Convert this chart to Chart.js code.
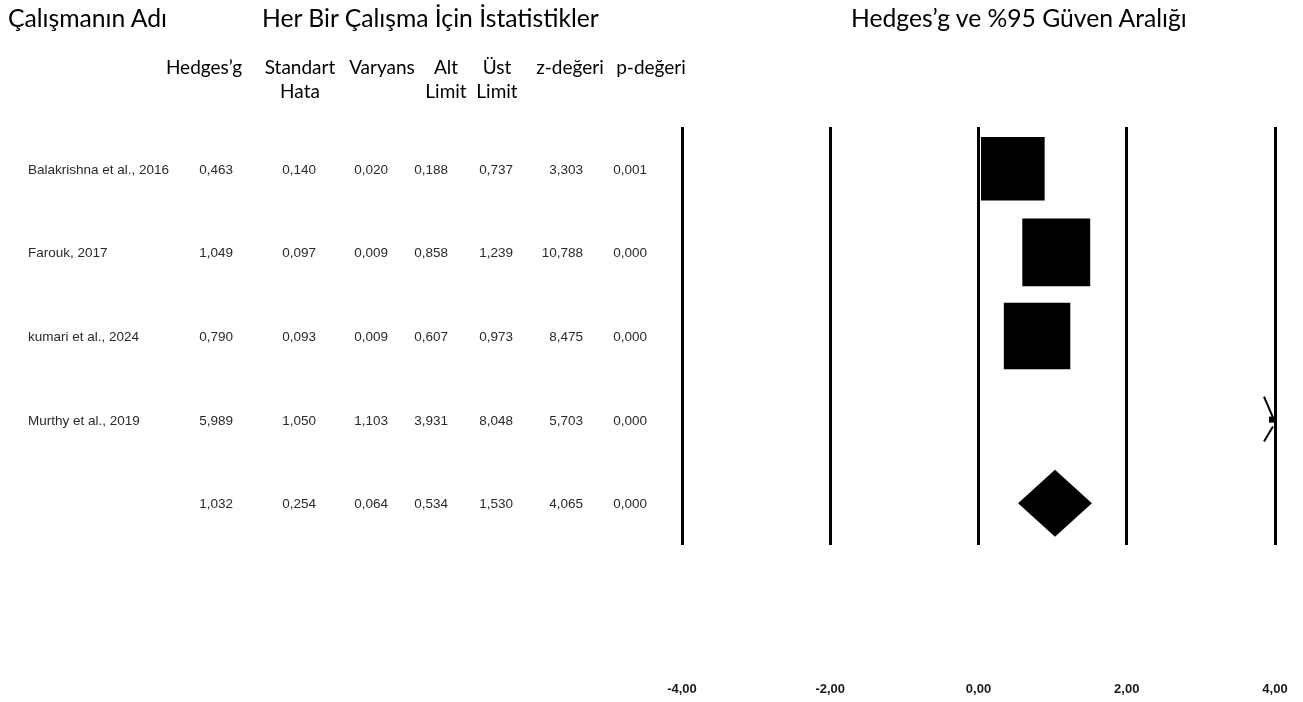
<!DOCTYPE html>
<html>
<head>
<meta charset="utf-8">
<script src="https://cdn.jsdelivr.net/npm/chart.js@4.4.1/dist/chart.umd.min.js"></script>
<style>
  html, body { margin: 0; padding: 0; background: #fff; }
  #wrap { position: relative; width: 1303px; height: 702px; overflow: hidden; }
  #c { position: absolute; left: 0; top: 0; }
  .title { position: absolute; font-family: Lato, "Open Sans", sans-serif; font-size: 24.7px; color: #000; white-space: nowrap; transform: translateY(-50%); }
  .colh { position: absolute; font-family: Lato, "Open Sans", sans-serif; font-size: 19px; color: #000; text-align: center; line-height: 24px; white-space: nowrap; }
  .cell { position: absolute; font-family: "Liberation Sans Narrow", "Liberation Sans", Arial, sans-serif; font-size: 13.5px; color: #2a2a2a; white-space: nowrap; transform: translateY(-50%); }
</style>
</head>
<body>
<div id="wrap">
  <canvas id="c" width="1303" height="702"></canvas>
  <div class="title" style="left:8px; top:17px;">Çalışmanın Adı</div>
  <div class="title" style="left:262px; top:17px;">Her Bir Çalışma İçin İstatistikler</div>
  <div class="title" style="left:851px; top:17px;">Hedges’g ve %95 Güven Aralığı</div>
  <div id="colheads"></div>
  <div id="rows"></div>
</div>
<script>
// ---- data ----
const studies = ["Balakrishna et al., 2016", "Farouk, 2017", "kumari et al., 2024", "Murthy et al., 2019"];
const hedgesG = [0.463, 1.049, 0.790, 5.989];
const stdError = [0.140, 0.097, 0.093, 1.050];
const variance = [0.020, 0.009, 0.009, 1.103];
const lowerLimit = [0.188, 0.858, 0.607, 3.931];
const upperLimit = [0.737, 1.239, 0.973, 8.048];
const zValue = [3.303, 10.788, 8.475, 5.703];
const pValue = [0.001, 0.000, 0.000, 0.000];
const summaryRow = [1.032, 0.254, 0.064, 0.534, 1.530, 4.065, 0.000]; // g, SE, var, lower, upper, z, p
const xTicks = [-4, -2, 0, 2, 4];
const columnHeaders = [["Hedges’g"], ["Standart", "Hata"], ["Varyans"], ["Alt", "Limit"], ["Üst", "Limit"], ["z-değeri"], ["p-değeri"]];

// ---- layout (styles) ----
const colHeadCenters = [204, 300, 382, 446, 497, 570, 651];
const colRight = [233, 316, 388, 448, 513, 583, 647];
const nameLeft = 28;
const boxRadius = [45, 48, 47, 47];

const fmt = v => v.toFixed(3).replace('.', ',');
const fmt2 = v => v.toFixed(2).replace('.', ',');

// column headers
const ch = document.getElementById('colheads');
columnHeaders.forEach((lines, i) => {
  const d = document.createElement('div');
  d.className = 'colh';
  d.style.left = (colHeadCenters[i] - 60) + 'px';
  d.style.width = '120px';
  d.style.top = '55px';
  d.innerHTML = lines.join('<br>');
  ch.appendChild(d);
});

const tableRows = studies.map((s, i) => [s, hedgesG[i], stdError[i], variance[i], lowerLimit[i], upperLimit[i], zValue[i], pValue[i]]);
tableRows.push([""].concat(summaryRow));

const rowsEl = document.getElementById('rows');
const rowDivs = [];
tableRows.forEach((r) => {
  const cells = [];
  const n = document.createElement('div');
  n.className = 'cell';
  n.style.left = nameLeft + 'px';
  n.textContent = r[0];
  rowsEl.appendChild(n);
  cells.push(n);
  for (let k = 1; k < r.length; k++) {
    const d = document.createElement('div');
    d.className = 'cell';
    d.style.right = (1303 - colRight[k - 1]) + 'px';
    d.textContent = fmt(r[k]);
    rowsEl.appendChild(d);
    cells.push(d);
  }
  rowDivs.push(cells);
});

const rowPositions = tableRows.map((_, i) => i + 1);

const forestPlugin = {
  id: 'forest',
  afterDraw(chart) {
    const ctx = chart.ctx;
    const xs = chart.scales.x, ys = chart.scales.y;
    // position table text by the y scale
    rowDivs.forEach((cells, i) => {
      const y = ys.getPixelForValue(rowPositions[i]);
      cells.forEach(c => c.style.top = y + 'px');
    });
    ctx.save();
    ctx.strokeStyle = '#000';
    ctx.fillStyle = '#000';
    ctx.lineWidth = 1.5;
    // CI whiskers and arrows
    studies.forEach((s, i) => {
      const y = ys.getPixelForValue(rowPositions[i]);
      const lo = Math.max(lowerLimit[i], xs.min), hi = Math.min(upperLimit[i], xs.max);
      if (lo < hi) {
        ctx.beginPath();
        ctx.moveTo(xs.getPixelForValue(lo), y);
        ctx.lineTo(xs.getPixelForValue(hi), y);
        ctx.stroke();
      }
      if (upperLimit[i] > xs.max) {
        const xe = xs.getPixelForValue(xs.max) - 2;
        ctx.lineWidth = 2;
        ctx.beginPath();
        ctx.moveTo(xe - 9, y - 23);
        ctx.lineTo(xe, y - 2);
        ctx.moveTo(xe - 9, y + 22);
        ctx.lineTo(xe, y + 7);
        ctx.stroke();
        ctx.fillRect(xe - 4, y - 3, 5, 6);
      }
    });
    // summary diamond
    const yS = ys.getPixelForValue(rowPositions[rowPositions.length - 1]);
    const h = 33.5;
    ctx.beginPath();
    ctx.moveTo(xs.getPixelForValue(summaryRow[3]), yS);
    ctx.lineTo(xs.getPixelForValue(summaryRow[0]), yS - h);
    ctx.lineTo(xs.getPixelForValue(summaryRow[4]), yS);
    ctx.lineTo(xs.getPixelForValue(summaryRow[0]), yS + h);
    ctx.closePath();
    ctx.fill();
    ctx.restore();
  }
};

new Chart(document.getElementById('c'), {
  type: 'scatter',
  data: {
    datasets: [{
      label: "Hedges'g",
      data: hedgesG.map((g, i) => ({ x: g, y: rowPositions[i] })),
      pointStyle: 'rect',
      pointRadius: boxRadius,
      pointHoverRadius: boxRadius,
      backgroundColor: '#000',
      borderColor: '#000',
      borderWidth: 0
    }]
  },
  options: {
    responsive: false,
    animation: false,
    devicePixelRatio: 1,
    events: [],
    layout: { autoPadding: false, padding: { left: 682, right: 28, top: 127, bottom: 7 } },
    plugins: { legend: { display: false }, tooltip: { enabled: false } },
    scales: {
      x: {
        type: 'linear',
        min: -4, max: 4,
        afterBuildTicks: (scale) => { scale.ticks = xTicks.map(v => ({ value: v })); },
        afterFit: (scale) => { scale.height = 150; scale.paddingLeft = 0; scale.paddingRight = 0; },
        grid: { color: '#000', lineWidth: 3, drawTicks: true, tickLength: 136, tickColor: 'rgba(0,0,0,0)', drawOnChartArea: true },
        border: { display: false },
        ticks: {
          padding: 1,
          color: '#1a1a1a',
          font: { family: 'Liberation Sans, Arial, sans-serif', size: 13, weight: 'bold' },
          callback: (v) => fmt2(v),
          maxRotation: 0
        }
      },
      y: {
        type: 'linear',
        min: 0.5, max: 5.5,
        reverse: true,
        display: false
      }
    }
  },
  plugins: [forestPlugin]
});
</script>
</body>
</html>
